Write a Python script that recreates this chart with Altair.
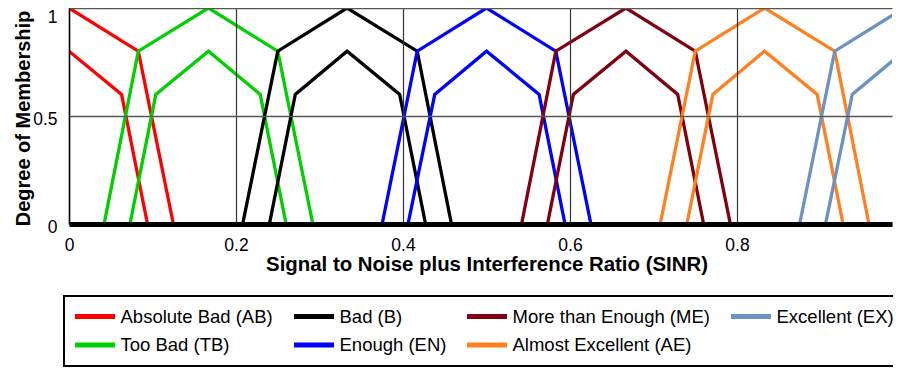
import altair as alt
import pandas as pd

sets = ["Absolute Bad (AB)", "Too Bad (TB)", "Bad (B)", "Enough (EN)",
        "More than Enough (ME)", "Almost Excellent (AE)", "Excellent (EX)"]
colors = ["#FF0000", "#00D000", "#000000", "#0000FF", "#800010", "#FF8020", "#6C92C4"]

# upper membership functions
upper_x = [
    [0.0, 0.083, 0.125],
    [0.042, 0.083, 0.167, 0.25, 0.292],
    [0.208, 0.25, 0.333, 0.417, 0.458],
    [0.375, 0.417, 0.5, 0.583, 0.625],
    [0.542, 0.583, 0.667, 0.75, 0.792],
    [0.708, 0.75, 0.833, 0.917, 0.958],
    [0.875, 0.917, 1.0],
]
upper_y = [
    [1.0, 0.8, 0.0],
    [0.0, 0.8, 1.0, 0.8, 0.0],
    [0.0, 0.8, 1.0, 0.8, 0.0],
    [0.0, 0.8, 1.0, 0.8, 0.0],
    [0.0, 0.8, 1.0, 0.8, 0.0],
    [0.0, 0.8, 1.0, 0.8, 0.0],
    [0.0, 0.8, 1.0],
]
# lower membership functions
lower_x = [
    [0.0, 0.063, 0.094],
    [0.073, 0.104, 0.167, 0.229, 0.26],
    [0.24, 0.271, 0.333, 0.396, 0.427],
    [0.406, 0.438, 0.5, 0.563, 0.594],
    [0.573, 0.604, 0.667, 0.729, 0.76],
    [0.74, 0.771, 0.833, 0.896, 0.927],
    [0.906, 0.938, 1.0],
]
lower_y = [
    [0.8, 0.6, 0.0],
    [0.0, 0.6, 0.8, 0.6, 0.0],
    [0.0, 0.6, 0.8, 0.6, 0.0],
    [0.0, 0.6, 0.8, 0.6, 0.0],
    [0.0, 0.6, 0.8, 0.6, 0.0],
    [0.0, 0.6, 0.8, 0.6, 0.0],
    [0.0, 0.6, 0.8],
]

x_ticks = [0, 0.2, 0.4, 0.6, 0.8]
y_ticks = [0, 0.5, 1]

rows = []
for i, s in enumerate(sets):
    for j, (xv, yv) in enumerate(zip(upper_x[i], upper_y[i])):
        rows.append({"set": s, "bound": s + " upper", "o": j, "x": xv, "y": yv})
    for j, (xv, yv) in enumerate(zip(lower_x[i], lower_y[i])):
        rows.append({"set": s, "bound": s + " lower", "o": j, "x": xv, "y": yv})
df = pd.DataFrame(rows)

FONT = "Liberation Sans"

chart = alt.Chart(df).mark_line(strokeWidth=3.3, clip=True).encode(
    x=alt.X("x:Q",
            scale=alt.Scale(domain=[0, 0.9856], nice=False, zero=False),
            axis=alt.Axis(values=x_ticks, format="~g", title="Signal to Noise plus Interference Ratio (SINR)",
                          grid=True, gridColor="#333333", gridWidth=1.2,
                          domainColor="#000000", domainWidth=5, ticks=False, tickSize=0,
                          labelFont=FONT, labelFontSize=17.5, labelColor="#000000",
                          labelBaseline="alphabetic", labelPadding=26, labelFlush=False,
                          titleFont=FONT, titleFontSize=20.4, titleFontWeight="bold", titleColor="#000000",
                          titleBaseline="alphabetic", titleX=417.5, titleY=46, zindex=1)),
    y=alt.Y("y:Q",
            scale=alt.Scale(domain=[0, 1], nice=False),
            axis=alt.Axis(values=y_ticks, format="~g", title="Degree of Membership",
                          grid=True, gridColor="#555555", gridWidth=1.3,
                          domainColor="#000000", domainWidth=1.5, ticks=False, tickSize=0,
                          labelFont=FONT, labelFontSize=17.5, labelColor="#000000",
                          labelPadding=12, labelFlush=False,
                          labelOffset={"condition": {"test": "datum.value == 1", "value": 0}, "value": 3},
                          labelBaseline={"condition": {"test": "datum.value == 1", "value": "top"}, "value": "middle"},
                          titleFont=FONT, titleFontSize=20, titleFontWeight="bold", titleColor="#000000",
                          titleBaseline="alphabetic", titleX=-40, titleY=110, zindex=1)),
    color=alt.Color("set:N",
                    scale=alt.Scale(domain=sets, range=colors),
                    legend=alt.Legend(title=None, orient="none", legendX=-5, legendY=288,
                                      columns=4, columnPadding=18, rowPadding=4.5,
                                      clipHeight=24,
                                      symbolType="stroke", symbolSize=1600, symbolStrokeWidth=5,
                                      labelFont=FONT, labelFontSize=18.5, labelColor="#000000",
                                      labelOffset=3, labelLimit=400,
                                      padding=8.5, strokeColor="#000000")),
    detail="bound:N",
    order="o:Q",
).properties(
    width=823, height=216,
    autosize=alt.AutoSizeParams(type="none"),
    padding={"left": 61, "top": 0, "right": 1, "bottom": 143},
).configure_view(strokeWidth=0).configure_legend(strokeWidth=2)

chart.save("out.html", embed_options={"renderer": "svg", "actions": False})
